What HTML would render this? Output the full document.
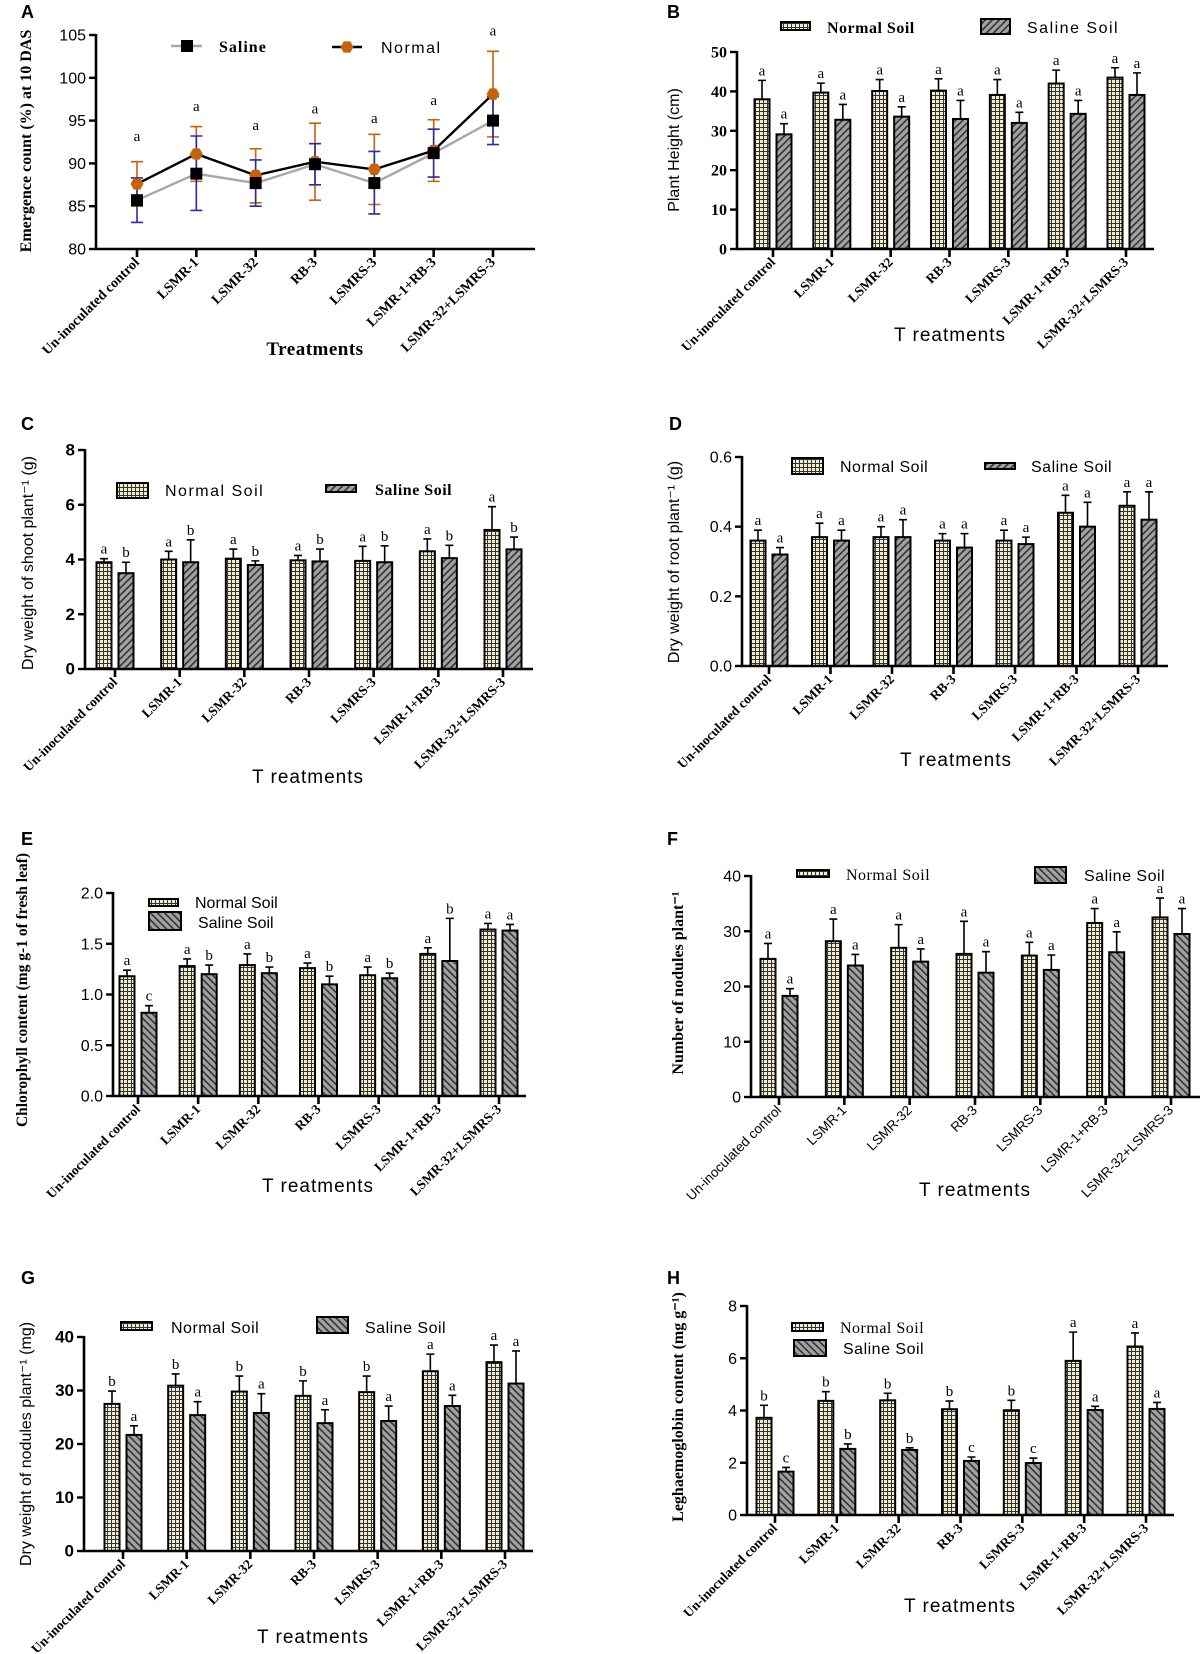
<!DOCTYPE html>
<html><head><meta charset="utf-8"><title>Treatment effects</title>
<style>
html,body{margin:0;padding:0;background:#fff;}
svg{display:block;}
</style></head>
<body>
<svg id="fig" width="1200" height="1654" viewBox="0 0 1200 1654" xmlns="http://www.w3.org/2000/svg">
<defs>
<pattern id="chk" width="4" height="4" patternUnits="userSpaceOnUse"><rect width="4" height="4" fill="#333"/><rect width="3" height="3" fill="#f2eecb"/></pattern>
<pattern id="hf" width="5" height="5" patternUnits="userSpaceOnUse" patternTransform="rotate(45)"><rect width="5" height="5" fill="#a2a2a2"/><rect width="1.6" height="5" fill="#333"/></pattern>
<pattern id="hb" width="5" height="5" patternUnits="userSpaceOnUse" patternTransform="rotate(-45)"><rect width="5" height="5" fill="#a2a2a2"/><rect width="1.6" height="5" fill="#333"/></pattern>
</defs>
</svg>
<script>
const categories=["Un-inoculated control","LSMR-1","LSMR-32","RB-3","LSMRS-3","LSMR-1+RB-3","LSMR-32+LSMRS-3"];
// Panel A
const aSaline=[85.7,88.8,87.7,89.9,87.7,91.2,95.0];
const aSalineLo=[83.1,84.5,85.0,87.5,84.1,88.4,92.2];
const aSalineHi=[88.3,93.2,90.4,92.3,91.4,94.0,97.8];
const aNormal=[87.6,91.1,88.6,90.2,89.3,91.5,98.1];
const aNormalLo=[85.0,87.9,85.4,85.7,85.2,87.9,93.1];
const aNormalHi=[90.2,94.3,91.7,94.7,93.4,95.1,103.1];
const aLetterVal=[93.2,96.7,94.5,96.4,95.3,97.4,105.5];
const aTicks=[80,85,90,95,100,105];
// Panel B
const bNormal=[38,39.7,40.1,40.2,39.1,42,43.5];
const bNormalErr=[42.8,42.1,43,43.2,43,45.4,46];
const bSaline=[29.1,32.8,33.6,33,32,34.3,39.1];
const bSalineErr=[31.8,36.7,36.1,37.7,34.7,37.7,44.7];
const bLetN=["a","a","a","a","a","a","a"], bLetS=["a","a","a","a","a","a","a"];
const bTicks=[0,10,20,30,40,50];
// Panel C
const cNormal=[3.9,4.0,4.03,3.97,3.95,4.3,5.08];
const cNormalErr=[4.03,4.3,4.38,4.15,4.48,4.75,5.93];
const cSaline=[3.5,3.9,3.8,3.93,3.9,4.05,4.37];
const cSalineErr=[3.9,4.72,3.95,4.38,4.5,4.52,4.82];
const cLetN=["a","a","a","a","a","a","a"], cLetS=["b","b","b","b","b","b","b"];
const cTicks=[0,2,4,6,8];
// Panel D
const dNormal=[0.36,0.37,0.37,0.36,0.36,0.44,0.46];
const dNormalErr=[0.39,0.41,0.40,0.38,0.39,0.49,0.50];
const dSaline=[0.32,0.36,0.37,0.34,0.35,0.40,0.42];
const dSalineErr=[0.34,0.39,0.42,0.38,0.37,0.47,0.50];
const dLetN=["a","a","a","a","a","a","a"], dLetS=["a","a","a","a","a","a","a"];
const dTicks=[0,0.2,0.4,0.6];
// Panel E
const eNormal=[1.18,1.28,1.29,1.26,1.19,1.40,1.64];
const eNormalErr=[1.24,1.35,1.40,1.31,1.27,1.46,1.70];
const eSaline=[0.82,1.20,1.21,1.10,1.16,1.33,1.63];
const eSalineErr=[0.89,1.29,1.27,1.18,1.21,1.75,1.69];
const eLetN=["a","a","a","a","a","a","a"], eLetS=["c","b","b","b","b","b","a"];
const eTicks=[0,0.5,1.0,1.5,2.0];
// Panel F
const fNormal=[25,28.2,27,25.9,25.6,31.5,32.5];
const fNormalErr=[27.8,32.2,31.2,31.8,28,34.1,36];
const fSaline=[18.3,23.8,24.5,22.5,23,26.2,29.5];
const fSalineErr=[19.6,25.8,26.8,26.3,25.7,29.9,34.1];
const fLetN=["a","a","a","a","a","a","a"], fLetS=["a","a","a","a","a","a","a"];
const fTicks=[0,10,20,30,40];
// Panel G
const gNormal=[27.5,30.9,29.8,29,29.7,33.6,35.3];
const gNormalErr=[29.9,33.1,32.7,31.8,32.7,36.8,38.5];
const gSaline=[21.7,25.4,25.8,23.9,24.3,27.1,31.3];
const gSalineErr=[23.4,27.9,29.4,26.4,27.1,29.1,37.4];
const gLetN=["b","b","b","b","b","a","a"], gLetS=["a","a","a","a","a","a","a"];
const gTicks=[0,10,20,30,40];
// Panel H
const hNormal=[3.72,4.37,4.39,4.05,4.01,5.9,6.45];
const hNormalErr=[4.2,4.72,4.66,4.36,4.39,7.0,6.97];
const hSaline=[1.66,2.53,2.49,2.07,1.99,4.02,4.06];
const hSalineErr=[1.82,2.72,2.57,2.22,2.18,4.16,4.31];
const hLetN=["b","b","b","b","b","a","a"], hLetS=["c","b","b","c","c","a","a"];
const hTicks=[0,2,4,6,8];

const NS="http://www.w3.org/2000/svg";
const svg=document.getElementById('fig');
function el(tag,attrs,parent,txt){const e=document.createElementNS(NS,tag);for(const k in attrs)e.setAttribute(k,attrs[k]);if(txt!==undefined)e.textContent=txt;(parent||svg).appendChild(e);return e;}
const SERIF='"Liberation Serif",serif', SANS='"Liberation Sans","DejaVu Sans",sans-serif';

function panelLetter(t,x,y){const e=el('text',{x:x,y:y,'font-family':SANS,'font-weight':'bold','font-size':18},svg,t);

}

function yTitle(g,t,x,y,font,bold,size){const e=el('text',{x:x,y:y,'text-anchor':'middle','font-family':font,'font-weight':bold?'bold':'normal','font-size':size||16,transform:'rotate(-90 '+x+' '+y+')'},g,t);

return e;}

function xTitle(g,t,x,y,font,bold,size,spacing){const e=el('text',{x:x,y:y,'text-anchor':'middle','font-family':font,'font-weight':bold?'bold':'normal','font-size':size||19,'letter-spacing':spacing||0},g,t);

}

function catLabels(g,xs,yB,font,bold,size){categories.forEach((c,i)=>{const x=xs(i)+3,y=yB+14;
const t=el('text',{x:x,y:y,'text-anchor':'end','font-family':font,'font-weight':bold?'bold':'normal','font-size':size,transform:'rotate(-45 '+x+' '+y+')'},g,c);

});}

function barChart(c){
  const g=el('g',{});
  
  
  const yS=v=>c.yB-(v-c.tk[0])/(c.tk[c.tk.length-1]-c.tk[0])*(c.yB-c.yT);
  const xs=i=>c.x1+i*(c.x7-c.x1)/6;
  const bw=15, off=11;
  const series=[[c.n,c.ne,c.ln,'url(#chk)',-off,'normal'],[c.s,c.se,c.ls,c.back?'url(#hb)':'url(#hf)',off,'saline']];
  series.forEach(sr=>{sr[0].forEach((v,i)=>{
    const cx=xs(i)+sr[4], top=yS(v), et=yS(sr[1][i]);
    const eb=el('path',{d:'M'+cx+' '+top+'V'+et+'M'+(cx-4)+' '+et+'H'+(cx+4),stroke:'#000','stroke-width':1.6,fill:'none'},g);
    
    
    const r=el('rect',{x:cx-bw/2,y:top,width:bw,height:c.yB-top,fill:sr[3],stroke:'#000','stroke-width':2},g);
    
    
    const l=el('text',{x:cx,y:et-5,'text-anchor':'middle','font-family':SERIF,'font-size':15},g,sr[2][i]);
    
    
  });});
  const ax=el('path',{d:'M'+c.axX+' '+(c.yT-1)+'V'+c.yB+'H'+c.axEnd,stroke:'#000','stroke-width':2.6,fill:'none'},g);
  
  
  c.tk.forEach(v=>{const y=yS(v);el('line',{x1:c.axX-7,x2:c.axX,y1:y,y2:y,stroke:'#000','stroke-width':2.4},g);
    const t=el('text',{x:c.axX-10,y:y+5.5,'text-anchor':'end','font-family':c.tf,'font-weight':c.tb?'bold':'normal','font-size':c.ts||16},g,c.fmt?v.toFixed(1):String(v));
    
    });
  categories.forEach((_,i)=>el('line',{x1:xs(i),x2:xs(i),y1:c.yB,y2:c.yB+8,stroke:'#000','stroke-width':2.6},g));
  catLabels(g,xs,c.yB,c.cf||SERIF,c.cb!==false,c.cs||13.5);
  yTitle(g,c.yt,c.ytx,c.yty,c.ytf,c.ytb,c.yts);
  xTitle(g,'T reatments',c.xtx,c.xty,SANS,false,19,1);
  c.leg.forEach((L,k)=>{const lg=el('g',{},g);
    
    
    el('rect',{x:L[0],y:L[1],width:L[2],height:L[3],fill:k===0?'url(#chk)':(c.back?'url(#hb)':'url(#hf)'),stroke:'#000','stroke-width':2},lg);
    el('text',{x:L[4],y:L[5],'font-family':L[6],'font-weight':L[7]?'bold':'normal','font-size':16,'letter-spacing':L[8]||0},lg,k===0?'Normal Soil':'Saline Soil');});
}

// ---------- Panel A (line chart) ----------
(function(){
  const g=el('g',{});
  
  
  const yT=35,yB=249,axX=96,axEnd=535;
  const yS=v=>yB-(v-80)/25*(yB-yT);
  const xs=i=>137+i*(493-137)/6;
  const ax=el('path',{d:'M'+axX+' '+(yT-1)+'V'+yB+'H'+axEnd,stroke:'#000','stroke-width':2.6,fill:'none'},g);
  
  
  aTicks.forEach(v=>{const y=yS(v);el('line',{x1:axX-7,x2:axX,y1:y,y2:y,stroke:'#000','stroke-width':2.4},g);
    const t=el('text',{x:axX-10,y:y+5.5,'text-anchor':'end','font-family':SANS,'font-size':16},g,String(v));
    
    });
  categories.forEach((_,i)=>el('line',{x1:xs(i),x2:xs(i),y1:yB,y2:yB+8,stroke:'#000','stroke-width':2.6},g));
  aNormal.forEach((v,i)=>{const x=xs(i);const e=el('path',{d:'M'+x+' '+yS(aNormalLo[i])+'V'+yS(aNormalHi[i])+'M'+(x-6)+' '+yS(aNormalLo[i])+'H'+(x+6)+'M'+(x-6)+' '+yS(aNormalHi[i])+'H'+(x+6),stroke:'#c8620a','stroke-width':1.6,fill:'none'},g);
    
    });
  aSaline.forEach((v,i)=>{const x=xs(i);const e=el('path',{d:'M'+x+' '+yS(aSalineLo[i])+'V'+yS(aSalineHi[i])+'M'+(x-6)+' '+yS(aSalineLo[i])+'H'+(x+6)+'M'+(x-6)+' '+yS(aSalineHi[i])+'H'+(x+6),stroke:'#2b2ba6','stroke-width':1.6,fill:'none'},g);
    
    });
  const ls=el('polyline',{points:aSaline.map((v,i)=>xs(i)+','+yS(v)).join(' '),fill:'none',stroke:'#a8a8a8','stroke-width':2.4},g);
  
  
  const ln=el('polyline',{points:aNormal.map((v,i)=>xs(i)+','+yS(v)).join(' '),fill:'none',stroke:'#000','stroke-width':2.4},g);
  
  
  function hex(cx,cy,r){let p=[];for(let k=0;k<6;k++){const a=Math.PI/3*k;p.push((cx+r*Math.cos(a)).toFixed(1)+','+(cy+r*Math.sin(a)).toFixed(1));}return p.join(' ');}
  aNormal.forEach((v,i)=>{const m=el('polygon',{points:hex(xs(i),yS(v),6.5),fill:'#c8620a'},g);
    
    });
  aSaline.forEach((v,i)=>{const m=el('rect',{x:xs(i)-6,y:yS(v)-6,width:12,height:12,fill:'#000'},g);
    
    });
  aLetterVal.forEach((v,i)=>{const t=el('text',{x:xs(i),y:yS(v)+5,'text-anchor':'middle','font-family':SERIF,'font-size':15},g,'a');
    
    });
  catLabels(g,xs,yB,SERIF,true,14);
  yTitle(g,'Emergence count (%) at 10 DAS',31,141,SERIF,true,16);
  xTitle(g,'Treatments',315,355,SERIF,true,19,0.5);
  const l1=el('g',{},g);
  
  
  el('line',{x1:171,x2:202,y1:46,y2:46,stroke:'#a8a8a8','stroke-width':2.4},l1);
  el('rect',{x:181,y:40,width:12,height:12,fill:'#000'},l1);
  el('text',{x:219,y:52,'font-family':SERIF,'font-weight':'bold','font-size':16,'letter-spacing':1},l1,'Saline');
  const l2=el('g',{},g);
  
  
  el('line',{x1:332,x2:362,y1:47,y2:47,stroke:'#000','stroke-width':2.4},l2);
  el('polygon',{points:hex(347,47,6.5),fill:'#c8620a'},l2);
  el('text',{x:381,y:53,'font-family':SANS,'font-size':16,'letter-spacing':1.5},l2,'Normal');
})();

barChart({name:'panel-b-plant-height-chart',n:bNormal,ne:bNormalErr,s:bSaline,se:bSalineErr,ln:bLetN,ls:bLetS,tk:bTicks,
 axX:737,axEnd:1154,yT:52,yB:249,x1:773,x7:1126,tf:SERIF,tb:true,ts:16,
 yt:'Plant Height (cm)',ytx:679,yty:150,ytf:SANS,ytb:false,xtx:950,xty:341,
 leg:[[781,22,29,8,827,33,SERIF,true,0.5],[981,19,29,15,1027,33,SANS,false,1.5]]});
barChart({name:'panel-c-shoot-dry-weight-chart',n:cNormal,ne:cNormalErr,s:cSaline,se:cSalineErr,ln:cLetN,ls:cLetS,tk:cTicks,
 axX:85,axEnd:533,yT:450,yB:669,x1:115,x7:503,tf:SANS,tb:true,ts:17,
 yt:'Dry weight of shoot plant\u207B\u00B9 (g)',ytx:33,yty:563,ytf:SANS,ytb:false,xtx:308,xty:783,
 leg:[[117,483,31,15,165,496,SANS,false,1.5],[326,485,30,7,375,495,SERIF,true,0.5]]});
barChart({name:'panel-d-root-dry-weight-chart',n:dNormal,ne:dNormalErr,s:dSaline,se:dSalineErr,ln:dLetN,ls:dLetS,tk:dTicks,fmt:true,
 axX:742,axEnd:1168,yT:457,yB:666,x1:769,x7:1138,tf:SANS,tb:false,ts:16,
 yt:'Dry weight of root plant\u207B\u00B9 (g)',ytx:679,yty:562,ytf:SANS,ytb:false,xtx:956,xty:766,
 leg:[[792,458,31,16,840,472,SANS,false,0.5],[985,463,30,6,1031,472,SANS,false,0.5]]});
barChart({name:'panel-e-chlorophyll-chart',n:eNormal,ne:eNormalErr,s:eSaline,se:eSalineErr,ln:eLetN,ls:eLetS,tk:eTicks,fmt:true,back:true,
 axX:113,axEnd:526,yT:893,yB:1096,x1:138,x7:499,tf:SANS,tb:false,ts:16,
 yt:'Chlorophyll content (mg g-1 of fresh leaf)',ytx:27,yty:990,ytf:SERIF,ytb:true,yts:15.5,xtx:318,xty:1192,
 leg:[[149,899,29,7,195,908,SANS,false,0],[149,912,32,18,198,928,SANS,false,0]]});
barChart({name:'panel-f-nodule-number-chart',n:fNormal,ne:fNormalErr,s:fSaline,se:fSalineErr,ln:fLetN,ls:fLetS,tk:fTicks,back:true,cf:SANS,cb:false,cs:13.5,
 axX:751,axEnd:1200,yT:876,yB:1097,x1:779,x7:1171,tf:SANS,tb:false,ts:16,
 yt:'Number of nodules plant\u207B\u00B9',ytx:683,yty:983,ytf:SERIF,ytb:true,xtx:975,xty:1196,
 leg:[[797,870,32,7,846,880,SERIF,false,0.5],[1035,867,31,16,1084,881,SANS,false,0.5]]});
barChart({name:'panel-g-nodule-dry-weight-chart',n:gNormal,ne:gNormalErr,s:gSaline,se:gSalineErr,ln:gLetN,ls:gLetS,tk:gTicks,back:true,
 axX:84,axEnd:533,yT:1337,yB:1551,x1:123,x7:505,tf:SANS,tb:true,ts:17,
 yt:'Dry weight of nodules plant\u207B\u00B9 (mg)',ytx:31,yty:1444,ytf:SANS,ytb:false,xtx:313,xty:1643,
 leg:[[121,1322,31,8,171,1333,SANS,false,0.5],[317,1317,31,16,365,1333,SANS,false,0.5]]});
barChart({name:'panel-h-leghaemoglobin-chart',n:hNormal,ne:hNormalErr,s:hSaline,se:hSalineErr,ln:hLetN,ls:hLetS,tk:hTicks,back:true,
 axX:747,axEnd:1174,yT:1306,yB:1515,x1:775,x7:1146,tf:SANS,tb:false,ts:16,
 yt:'Leghaemoglobin content (mg g\u207B\u00B9)',ytx:683,yty:1407,ytf:SERIF,ytb:true,xtx:960,xty:1612,
 leg:[[792,1323,31,8,840,1333,SERIF,false,0.5],[794,1340,32,16,843,1354,SANS,false,0.5]]});

panelLetter('A',21,18);panelLetter('B',667,18);
panelLetter('C',21,430);panelLetter('D',669,430);
panelLetter('E',21,845);panelLetter('F',667,845);
panelLetter('G',21,1284);panelLetter('H',667,1284);
</script>
</body></html>
